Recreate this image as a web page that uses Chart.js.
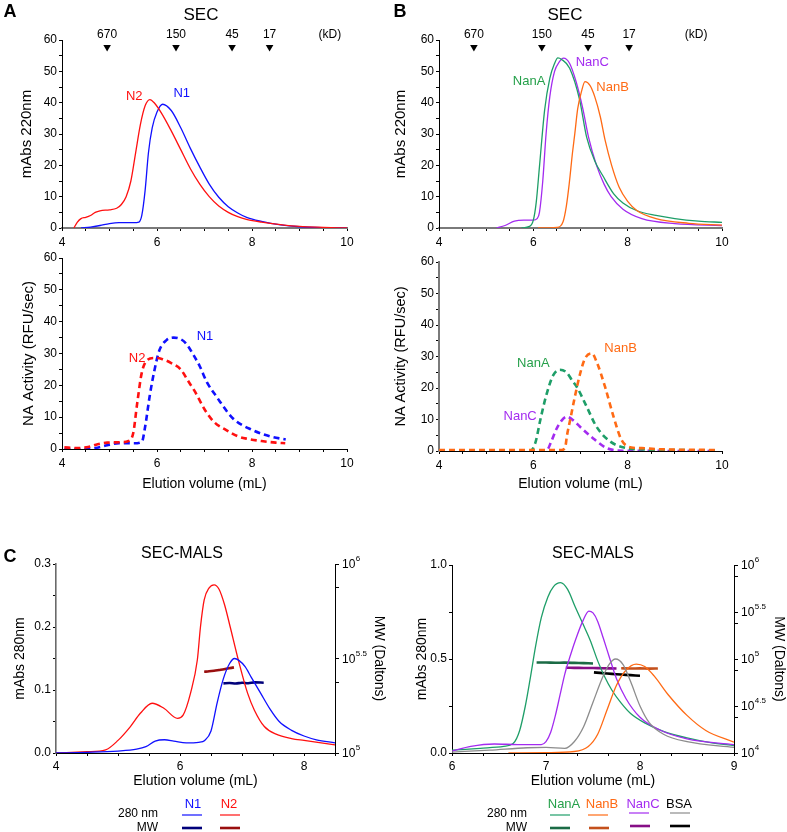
<!DOCTYPE html>
<html><head><meta charset="utf-8">
<script src="https://cdn.jsdelivr.net/npm/chart.js@4.4.1/dist/chart.umd.min.js"></script>
<style>
html,body{margin:0;padding:0;background:#fff;width:787px;height:832px;overflow:hidden}
canvas{position:absolute;left:0;top:0}
</style></head><body>
<canvas id="cA1" width="787" height="832"></canvas>
<canvas id="cA2" width="787" height="832"></canvas>
<canvas id="cB1" width="787" height="832"></canvas>
<canvas id="cB2" width="787" height="832"></canvas>
<canvas id="cC1" width="787" height="832"></canvas>
<canvas id="cC2" width="787" height="832"></canvas>
<script>
// ================= DATA =================
// size markers (kD) on SEC panels
const kdLabels = ['670', '150', '45', '17'];
const kdPosA = [4.95, 6.40, 7.58, 8.37];
const kdPosB = [4.74, 6.18, 7.16, 8.03];
const kdUnitPosA = 9.64;
const kdUnitPosB = 9.45;

// Panel A top: SEC, mAbs 220nm
const secA_N2_x = [4.25,4.32,4.4,4.5,4.6,4.7,4.8,5.0,5.15,5.25,5.35,5.45,5.55,5.65,5.75,5.85,5.95,6.1,6.3,6.5,6.7,6.9,7.1,7.3,7.5,7.7,7.9,8.2,8.6,9.0,9.5,10.0];
const secA_N2_y = [0,1.8,3,3.4,4,5,5.5,5.8,6.3,7.5,10,15,24,33,39,41,39.8,36.5,31,25,19,14,10,7,5,3.6,2.7,1.9,1.1,0.5,0.2,0];
const secA_N1_x = [4.4,4.6,4.8,5.0,5.2,5.5,5.62,5.68,5.75,5.82,5.9,6.0,6.12,6.3,6.5,6.7,6.9,7.1,7.3,7.5,7.7,7.9,8.2,8.6,9.0,9.5,10.0];
const secA_N1_y = [0,0.3,0.8,1.4,1.7,1.7,1.9,4,12,24,32,37,39.5,37.5,32,25.5,19.5,14,9.8,6.8,4.8,3.3,2.1,1.0,0.4,0.1,0];

// Panel A bottom: NA activity
const naA_N1_x = [4.05,4.5,4.7,4.95,5.2,5.5,5.68,5.75,5.85,5.95,6.05,6.2,6.35,6.5,6.62,6.75,6.9,7.05,7.25,7.6,8.0,8.4,8.71];
const naA_N1_y = [0,0,0.3,1.2,1.8,1.8,2.2,7,17,25,31,34.2,35,34.5,33,30,26,21,16.5,9.6,6,3.9,3];
const naA_N2_x = [4.05,4.3,4.55,4.75,4.95,5.2,5.4,5.5,5.58,5.68,5.8,5.95,6.1,6.3,6.5,6.65,6.8,7.0,7.2,7.45,7.7,7.9,8.2,8.5,8.7];
const naA_N2_y = [0.5,0.3,0.6,1.5,2,2.1,2.5,5,14,24,28,28.6,28.3,27,25,21.5,18,12.5,8.5,6,4,3.2,2.5,2,1.8];

// Panel B top: SEC
const secB_NanA_x = [5.75,5.92,6.0,6.06,6.13,6.24,6.35,6.45,6.52,6.6,6.77,6.98,7.13,7.3,7.48,7.7,7.9,8.2,8.6,9.0,9.5,10.0];
const secB_NanA_y = [0,0.5,2.5,8,19.6,37.7,47.8,52.5,54.3,53.8,51,41,29,21.5,16.5,11,8,5.5,4,3,2.2,1.8];
const secB_NanC_x = [5.22,5.4,5.6,5.8,6.0,6.08,6.13,6.2,6.27,6.35,6.45,6.55,6.64,6.77,6.91,7.05,7.17,7.34,7.5,7.65,7.9,8.3,9.0,10.0];
const secB_NanC_y = [0,0.8,2.2,2.5,2.5,3,5,15,30,42,50,53,54.2,52.5,46.5,38,29,20,14,10,6,3,1.4,0.8];
const secB_NanB_x = [6.1,6.5,6.63,6.7,6.76,6.83,6.88,6.94,7.02,7.095,7.2,7.3,7.42,7.52,7.66,7.82,8.0,8.2,8.6,9.3,10.0];
const secB_NanB_y = [0,0.2,2,7,14,24,30.2,38,43.5,46.7,45.5,42,35.5,28.1,20,13,8.5,5.5,3,1.5,0.9];

// Panel B bottom: NA activity
const naB_NanA_x = [4.0,5.95,6.05,6.15,6.28,6.42,6.56,6.7,6.84,6.92,7.13,7.34,7.63,7.98,8.3,9.0,9.9];
const naB_NanA_y = [0.2,0.2,3,10,18,24,25.8,25,22,20.4,14.1,7.7,3,0.9,0.5,0.3,0.2];
const naB_NanC_x = [4.0,6.28,6.38,6.49,6.59,6.71,6.84,6.99,7.27,7.56,7.9,9.9];
const naB_NanC_y = [0,0.2,3,7,9.5,10.9,9.8,7.7,4,0.9,0.1,0];
const naB_NanB_x = [4.0,6.6,6.68,6.71,6.78,6.88,7.0,7.1,7.24,7.35,7.52,7.7,7.87,8.08,8.3,8.6,9.9];
const naB_NanB_y = [0.3,0.3,1.5,4.6,9.8,17.2,25,29.5,31,28,20.4,10.9,3.5,1.1,0.9,0.6,0.3];

// Panel C left: SEC-MALS 280nm (mAbs) and MW (Daltons)
const malsL_N1_x = [4.0,4.5,5.0,5.3,5.45,5.6,5.75,5.9,6.1,6.3,6.4,6.5,6.6,6.7,6.8,6.88,6.95,7.05,7.15,7.3,7.45,7.6,7.8,8.0,8.2,8.5];
const malsL_N1_y = [0,0.001,0.003,0.006,0.01,0.019,0.021,0.019,0.016,0.017,0.02,0.035,0.08,0.118,0.142,0.15,0.147,0.137,0.12,0.095,0.07,0.05,0.036,0.027,0.021,0.016];
const malsL_N2_x = [4.0,4.5,4.8,5.0,5.2,5.36,5.55,5.74,5.96,6.05,6.17,6.28,6.33,6.39,6.47,6.55,6.63,6.72,6.81,6.94,7.09,7.2,7.36,7.55,7.8,8.0,8.5];
const malsL_N2_y = [0,0.002,0.005,0.02,0.042,0.063,0.079,0.071,0.055,0.06,0.095,0.148,0.2,0.243,0.262,0.267,0.26,0.235,0.2,0.148,0.095,0.068,0.042,0.03,0.023,0.02,0.013];
const mwL_N2_x = [6.39,6.47,6.55,6.63,6.71,6.79,6.87];
const mwL_N2_y = [269000,270500,272500,275000,277500,280500,283800];
const mwL_N1_x = [6.70,6.80,6.90,7.00,7.10,7.20,7.35];
const mwL_N1_y = [233500,234500,233000,235500,234000,236500,235500];

// Panel C right
const malsR_NanA_x = [6.0,6.3,6.55,6.65,6.72,6.78,6.83,6.89,6.95,7.02,7.08,7.155,7.23,7.31,7.39,7.47,7.55,7.62,7.7,7.8,7.9,8.05,8.25,8.5,8.75,9.0];
const malsR_NanA_y = [0.015,0.025,0.035,0.05,0.12,0.25,0.39,0.57,0.72,0.83,0.885,0.906,0.87,0.778,0.69,0.6,0.49,0.41,0.335,0.265,0.21,0.16,0.115,0.08,0.055,0.04];
const malsR_NanC_x = [6.0,6.2,6.45,6.7,6.95,7.0,7.05,7.1,7.15,7.2,7.26,7.32,7.39,7.456,7.5,7.55,7.61,7.68,7.75,7.85,8.0,8.2,8.5,9.0];
const malsR_NanC_y = [0.01,0.035,0.048,0.045,0.045,0.06,0.11,0.2,0.31,0.42,0.52,0.61,0.7,0.755,0.745,0.7,0.61,0.5,0.395,0.29,0.19,0.125,0.075,0.045];
const malsR_BSA_x = [6.0,6.4,6.8,7.0,7.2,7.3,7.4,7.5,7.6,7.67,7.74,7.82,7.9,8.0,8.1,8.25,8.5,9.0];
const malsR_BSA_y = [0.005,0.015,0.028,0.03,0.025,0.06,0.14,0.27,0.4,0.47,0.5,0.47,0.38,0.25,0.16,0.1,0.06,0.03];
const malsR_NanB_x = [6.6,7.0,7.3,7.45,7.55,7.65,7.75,7.85,7.96,8.05,8.15,8.3,8.5,8.7,9.0];
const malsR_NanB_y = [0,0.002,0.008,0.035,0.1,0.23,0.36,0.44,0.473,0.46,0.41,0.31,0.2,0.12,0.058];
const mwR_NanA_x = [6.9,7.0,7.1,7.2,7.3,7.4,7.5];
const mwR_NanA_y = [91800,91700,91300,91400,90900,90300,89700];
const mwR_NanC_x = [7.21,7.3,7.4,7.5,7.6,7.75];
const mwR_NanC_y = [80700,80500,80300,80100,79700,79100];
const mwR_NanB_x = [7.8,7.9,8.0,8.1,8.19];
const mwR_NanB_y = [79600,79200,79500,79000,79300];
const mwR_BSA_x = [7.51,7.6,7.7,7.8,7.9,8.0];
const mwR_BSA_y = [72100,70700,69500,68300,67300,66400];

// tick values
const xTicksAB = [4,4.5,5,5.5,6,6.5,7,7.5,8,8.5,9,9.5,10];
const xLabelsAB = [4,6,8,10];
const yTicksAB = [0,5,10,15,20,25,30,35,40,45,50,55,60];
const yLabelsAB = [0,10,20,30,40,50,60];
const xTicksCL = [4,4.5,5,5.5,6,6.5,7,7.5,8,8.5];
const xLabelsCL = [4,6,8];
const yTicksCL = [0,0.05,0.1,0.15,0.2,0.25,0.3];
const yLabelsCL = [0,0.1,0.2,0.3];
const xTicksCR = [6,6+1/3,6+2/3,7,7+1/3,7+2/3,8,8+1/3,8+2/3,9];
const xLabelsCR = [6,7,8,9];
const yTicksCR = [0,0.25,0.5,0.75,1.0];
const yLabelsCR = [0,0.5,1.0];
const mwTicksCL = [1e5, Math.pow(10,5.375), Math.pow(10,5.5), Math.pow(10,5.875), 1e6];
const mwExpCL = ['5','5.5','6'];
const mwTicksCR = [1e4, Math.pow(10,4.375), Math.pow(10,4.5), Math.pow(10,4.875), 1e5, Math.pow(10,5.375), Math.pow(10,5.5), Math.pow(10,5.875), 1e6];
const mwExpCR = ['4','4.5','5','5.5','6'];

// ================= STYLE / LAYOUT =================
const W = 787, H = 832;
const FONT = '"Liberation Sans", Arial, Helvetica, sans-serif';
Chart.defaults.font.family = FONT;
Chart.defaults.color = '#000';

const C = {
  red:'#ff1010', blue:'#1010ff', dred:'#990f0f', dblue:'#00007a',
  green:'#1e9e68', dgreen:'#1b6b45', orange:'#ff6a14', dorange:'#c4501c',
  purple:'#a32bf0', dpurple:'#860f86', gray:'#8c8c8c', black:'#000000',
  tgreen:'#25a04a'
};

function pts(xs, ys){ return xs.map((x,i)=>({x:x, y:ys[i]})); }
function ds(xs, ys, color, o){
  return Object.assign({data:pts(xs,ys), borderColor:color, backgroundColor:color, borderWidth:1.3,
    pointRadius:0, fill:false, cubicInterpolationMode:'monotone', yAxisID:'y'}, o||{});
}
const dashed = {borderWidth:2.6, borderDash:[6,4]};
const mwStyle = {borderWidth:2.6, yAxisID:'y2', cubicInterpolationMode:'default', tension:0.3};

function txt(ctx, t, x, y, o){
  o = o||{};
  ctx.save();
  ctx.font = (o.bold?'bold ':'') + (o.size||13) + 'px ' + FONT;
  ctx.fillStyle = o.color||'#000';
  ctx.textAlign = o.align||'center';
  ctx.textBaseline = 'middle';
  ctx.fillText(t, x, y);
  ctx.restore();
}
function seg(ctx, x1, x2, y, color, w){
  ctx.save(); ctx.strokeStyle = color; ctx.lineWidth = w; ctx.beginPath();
  ctx.moveTo(x1,y); ctx.lineTo(x2,y); ctx.stroke(); ctx.restore();
}
function drawKD(chart, pos, labels, unitPos){
  const xs = chart.scales.x, top = chart.chartArea.top, ctx = chart.ctx;
  pos.forEach((v,i)=>{
    const px = xs.getPixelForValue(v);
    txt(ctx, labels[i], px, top-5, {size:12});
    ctx.save(); ctx.fillStyle='#000'; ctx.beginPath();
    ctx.moveTo(px-3.8, top+5); ctx.lineTo(px+3.8, top+5); ctx.lineTo(px, top+11.5); ctx.closePath(); ctx.fill(); ctx.restore();
  });
  txt(ctx, '(kD)', xs.getPixelForValue(unitPos), top-5, {size:12});
}
function drawLabels(chart, list){
  const xs = chart.scales.x, ys = chart.scales.y;
  list.forEach(l => txt(chart.ctx, l.t, xs.getPixelForValue(l.x), ys.getPixelForValue(l.y), {size:13, color:l.c}));
}
function drawLogLabels(chart, exps){
  const sc = chart.scales.y2, ctx = chart.ctx;
  exps.forEach(e=>{
    const py = sc.getPixelForValue(Math.pow(10, parseFloat(e)));
    const x0 = sc.left + 7;
    ctx.save();
    ctx.font = '12px ' + FONT; ctx.fillStyle='#000'; ctx.textAlign='left'; ctx.textBaseline='middle';
    ctx.fillText('10', x0, py+1);
    const w = ctx.measureText('10').width;
    ctx.font = '8px ' + FONT;
    ctx.fillText(e, x0 + w + 0.5, py-5);
    ctx.restore();
  });
}

function build(id, s){
  const lhY = s.yTitle.size*1.2;
  const padL = s.yTitle.cx - lhY/2;
  const yW = s.area.l - padL;
  let padB, xH;
  if (s.xTitle){ const lh = s.xTitle.size*1.2; padB = H - (s.xTitle.cy + lh/2); xH = s.xTitle.cy + lh/2 - s.area.b; }
  else { xH = 30; padB = H - s.area.b - xH; }
  let padR, y2W = 0;
  if (s.y2){ const lh = s.y2.title.size*1.2; const right = Math.min(W, s.y2.title.cx + lh/2); padR = W - right; y2W = right - s.area.r; }
  else padR = W - s.area.r;
  const scales = {
    x: { type:'linear', min:s.x.min, max:s.x.max,
      afterBuildTicks: sc => { sc.ticks = s.x.ticks.map(v=>({value:v})); },
      afterFit: sc => { sc.height = xH; },
      ticks: { autoSkip:false, maxRotation:0, minRotation:0, padding:s.x.pad, font:{size:12}, color:'#000',
        callback: v => s.x.labels.some(l=>Math.abs(l-v)<1e-6) ? s.x.fmt(v) : '' },
      grid: { display:true, drawOnChartArea:false, drawTicks:true, tickLength:3, color:'#000', lineWidth:1 },
      border: { display:true, color:s.x.bc||'#000', width:s.x.bw||1 },
      title: s.xTitle ? {display:true, text:s.xTitle.text, font:{size:s.xTitle.size}, color:'#000', padding:0} : {display:false}
    },
    y: { type:'linear', position:'left', min:s.y.min, max:s.y.max,
      afterBuildTicks: sc => { sc.ticks = s.y.ticks.map(v=>({value:v})); },
      afterFit: sc => { sc.width = yW; },
      ticks: { autoSkip:false, padding:2, font:{size:12}, color:'#000',
        callback: v => s.y.labels.some(l=>Math.abs(l-v)<1e-6) ? s.y.fmt(v) : '' },
      grid: { display:true, drawOnChartArea:false, drawTicks:true, tickLength:3, color:'#000', lineWidth:1 },
      border: { display:true, color:s.y.bc||'#000', width:s.y.bw||1 },
      title: {display:true, text:s.yTitle.text, font:{size:s.yTitle.size}, color:'#000', padding:0}
    }
  };
  if (s.y2){
    scales.y2 = { type:'logarithmic', position:'right', min:s.y2.min, max:s.y2.max,
      afterBuildTicks: sc => { sc.ticks = s.y2.ticks.map(v=>({value:v})); },
      afterFit: sc => { sc.width = y2W; },
      ticks: { autoSkip:false, padding:2, font:{size:12}, callback: () => '' },
      grid: { display:true, drawOnChartArea:false, drawTicks:true, tickLength:4, color:'#000', lineWidth:1 },
      border: { display:true, color:'#000', width:1 },
      title: {display:true, text:s.y2.title.text, font:{size:s.y2.title.size}, color:'#000', padding:0}
    };
  }
  return new Chart(document.getElementById(id), {
    type:'line',
    data:{ datasets: s.datasets },
    options:{
      responsive:false, animation:false, events:[],
      layout:{ padding:{ left:padL, right:padR, top:s.area.t, bottom:padB } },
      plugins:{ legend:{display:false}, tooltip:{enabled:false}, title:{display:false} },
      scales: scales
    },
    plugins:[{ id:'deco_'+id, afterDraw: chart => s.draw(chart) }]
  });
}

const fmtInt = v => String(Math.round(v));
const fmt1 = v => v.toFixed(1);

// ---------- Panel A top ----------
build('cA1', {
  area:{l:62, r:347, t:40, b:228},
  x:{min:4, max:10, ticks:xTicksAB, labels:xLabelsAB, fmt:fmtInt, pad:4, bc:'#7a7a7a', bw:2},
  y:{min:0, max:60, ticks:yTicksAB, labels:yLabelsAB, fmt:fmtInt},
  yTitle:{text:'mAbs 220nm', cx:27, size:15},
  datasets:[ ds(secA_N2_x, secA_N2_y, C.red), ds(secA_N1_x, secA_N1_y, C.blue) ],
  draw: ch => {
    const ctx = ch.ctx;
    txt(ctx, 'A', 10, 12, {size:18, bold:true});
    txt(ctx, 'SEC', 201, 15, {size:17});
    drawKD(ch, kdPosA, kdLabels, kdUnitPosA);
    drawLabels(ch, [{t:'N2', x:5.52, y:42.1, c:C.red}, {t:'N1', x:6.52, y:42.8, c:C.blue}]);
  }
});
// ---------- Panel A bottom ----------
build('cA2', {
  area:{l:62, r:347, t:258, b:449},
  x:{min:4, max:10, ticks:xTicksAB, labels:xLabelsAB, fmt:fmtInt, pad:4},
  y:{min:0, max:60, ticks:yTicksAB, labels:yLabelsAB, fmt:fmtInt},
  yTitle:{text:'NA Activity (RFU/sec)', cx:29, size:15},
  xTitle:{text:'Elution volume (mL)', cy:484, size:14},
  datasets:[ ds(naA_N2_x, naA_N2_y, C.red, dashed), ds(naA_N1_x, naA_N1_y, C.blue, dashed) ],
  draw: ch => {
    drawLabels(ch, [{t:'N1', x:7.01, y:35.5, c:C.blue}, {t:'N2', x:5.58, y:28.6, c:C.red}]);
  }
});
// ---------- Panel B top ----------
build('cB1', {
  area:{l:439, r:722, t:40, b:228},
  x:{min:4, max:10, ticks:xTicksAB, labels:xLabelsAB, fmt:fmtInt, pad:4, bc:'#7a7a7a', bw:2},
  y:{min:0, max:60, ticks:yTicksAB, labels:yLabelsAB, fmt:fmtInt},
  yTitle:{text:'mAbs 220nm', cx:401, size:15},
  datasets:[ ds(secB_NanB_x, secB_NanB_y, C.orange), ds(secB_NanA_x, secB_NanA_y, C.green), ds(secB_NanC_x, secB_NanC_y, C.purple) ],
  draw: ch => {
    const ctx = ch.ctx;
    txt(ctx, 'B', 400, 12, {size:18, bold:true});
    txt(ctx, 'SEC', 565, 15, {size:17});
    drawKD(ch, kdPosB, kdLabels, kdUnitPosB);
    drawLabels(ch, [{t:'NanA', x:5.91, y:46.9, c:C.tgreen}, {t:'NanC', x:7.25, y:52.9, c:C.purple}, {t:'NanB', x:7.68, y:44.8, c:C.orange}]);
  }
});
// ---------- Panel B bottom ----------
build('cB2', {
  area:{l:439, r:722, t:262, b:451},
  x:{min:4, max:10, ticks:xTicksAB, labels:xLabelsAB, fmt:fmtInt, pad:4},
  y:{min:0, max:60, ticks:yTicksAB, labels:yLabelsAB, fmt:fmtInt, bc:'#7a7a7a', bw:2},
  yTitle:{text:'NA Activity (RFU/sec)', cx:401, size:14.5},
  xTitle:{text:'Elution volume (mL)', cy:484, size:14},
  datasets:[ ds(naB_NanB_x, naB_NanB_y, C.orange, dashed), ds(naB_NanA_x, naB_NanA_y, C.green, dashed), ds(naB_NanC_x, naB_NanC_y, C.purple, dashed) ],
  draw: ch => {
    drawLabels(ch, [{t:'NanA', x:6.0, y:27.8, c:C.tgreen}, {t:'NanC', x:5.72, y:10.9, c:C.purple}, {t:'NanB', x:7.85, y:32.6, c:C.orange}]);
  }
});
// ---------- Panel C left ----------
build('cC1', {
  area:{l:56, r:335, t:564, b:753},
  x:{min:4, max:8.5, ticks:xTicksCL, labels:xLabelsCL, fmt:fmtInt, pad:3},
  y:{min:0, max:0.3, ticks:yTicksCL, labels:yLabelsCL, fmt:fmt1, bc:'#6a6a6a', bw:1.6},
  yTitle:{text:'mAbs 280nm', cx:20, size:14},
  xTitle:{text:'Elution volume (mL)', cy:781, size:14},
  y2:{min:1e5, max:1e6, ticks:mwTicksCL, title:{text:'MW (Daltons)', cx:379, size:14}},
  datasets:[ ds(malsL_N1_x, malsL_N1_y, C.blue), ds(malsL_N2_x, malsL_N2_y, C.red),
    ds(mwL_N2_x, mwL_N2_y, C.dred, mwStyle), ds(mwL_N1_x, mwL_N1_y, C.dblue, mwStyle) ],
  draw: ch => {
    const ctx = ch.ctx;
    txt(ctx, 'C', 10, 557, {size:18, bold:true});
    txt(ctx, 'SEC-MALS', 182, 554, {size:16});
    drawLogLabels(ch, mwExpCL);
    txt(ctx, 'N1', 193, 804, {size:13, color:C.blue});
    txt(ctx, 'N2', 229, 804, {size:13, color:C.red});
    txt(ctx, '280 nm', 158, 814, {size:12, align:'right'});
    txt(ctx, 'MW', 158, 828, {size:12, align:'right'});
    seg(ctx, 182, 202, 815, C.blue, 1.2); seg(ctx, 220, 240, 815, C.red, 1.2);
    seg(ctx, 182, 202, 828, C.dblue, 2.6); seg(ctx, 220, 240, 828, C.dred, 2.6);
  }
});
// ---------- Panel C right ----------
build('cC2', {
  area:{l:452, r:734, t:565, b:753},
  x:{min:6, max:9, ticks:xTicksCR, labels:xLabelsCR, fmt:fmtInt, pad:3},
  y:{min:0, max:1, ticks:yTicksCR, labels:yLabelsCR, fmt:fmt1},
  yTitle:{text:'mAbs 280nm', cx:422, size:14},
  xTitle:{text:'Elution volume (mL)', cy:781, size:14},
  y2:{min:1e4, max:1e6, ticks:mwTicksCR, title:{text:'MW (Daltons)', cx:779, size:14}},
  datasets:[ ds(malsR_BSA_x, malsR_BSA_y, C.gray), ds(malsR_NanB_x, malsR_NanB_y, C.orange),
    ds(malsR_NanC_x, malsR_NanC_y, C.purple), ds(malsR_NanA_x, malsR_NanA_y, C.green),
    ds(mwR_NanA_x, mwR_NanA_y, C.dgreen, mwStyle), ds(mwR_NanC_x, mwR_NanC_y, C.dpurple, mwStyle),
    ds(mwR_BSA_x, mwR_BSA_y, C.black, mwStyle), ds(mwR_NanB_x, mwR_NanB_y, C.dorange, mwStyle) ],
  draw: ch => {
    const ctx = ch.ctx;
    txt(ctx, 'SEC-MALS', 593, 554, {size:16});
    drawLogLabels(ch, mwExpCR);
    txt(ctx, 'NanA', 564, 804, {size:13, color:C.tgreen});
    txt(ctx, 'NanB', 602, 804, {size:13, color:C.orange});
    txt(ctx, 'NanC', 643, 804, {size:13, color:C.purple});
    txt(ctx, 'BSA', 679, 804, {size:13});
    txt(ctx, '280 nm', 527, 814, {size:12, align:'right'});
    txt(ctx, 'MW', 527, 828, {size:12, align:'right'});
    seg(ctx, 550, 570, 815, C.green, 1.2); seg(ctx, 588, 608, 815, C.orange, 1.2);
    seg(ctx, 629, 649, 813, C.purple, 1.2); seg(ctx, 670, 690, 813, C.gray, 1.2);
    seg(ctx, 550, 570, 828, C.dgreen, 2.6); seg(ctx, 589, 609, 828, C.dorange, 2.6);
    seg(ctx, 630, 650, 826, C.dpurple, 2.6); seg(ctx, 670, 690, 826, C.black, 2.6);
  }
});
</script>
</body></html>
